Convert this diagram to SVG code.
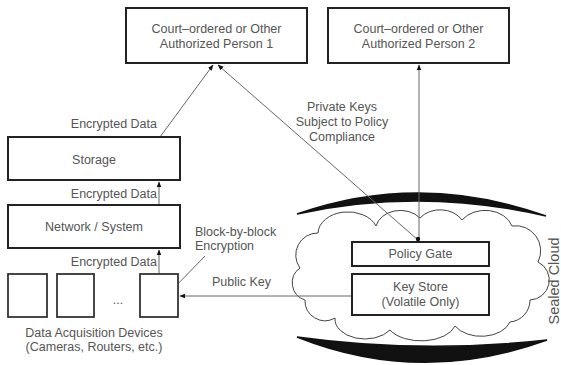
<svg xmlns="http://www.w3.org/2000/svg" width="561" height="365" viewBox="0 0 561 365">
<style>
.box{fill:#fff;stroke:#222;stroke-width:2}
.dev{fill:#fff;stroke:#333;stroke-width:1.8}
.t{font-family:"Liberation Sans",Arial,sans-serif;font-size:12.5px;fill:#555;text-anchor:middle}
.l{font-family:"Liberation Sans",Arial,sans-serif;font-size:12.5px;fill:#555}
.c{stroke:#666;stroke-width:1;fill:none}
</style>
<defs>
<marker id="ah" viewBox="0 0 10 10" refX="9" refY="5" markerWidth="6" markerHeight="6" orient="auto">
<path d="M0,1 L10,5 L0,9 Z" fill="#111"/>
</marker>
</defs>
<rect width="561" height="365" fill="#fff"/>

<g id="crescents">
<path d="M297,214 Q420,171 546,216 Q420,187 297,214 Z" fill="#111" stroke="#111" stroke-width="1.5"/>
<path d="M297,337 Q420,386 547,340 Q420,354 297,337 Z" fill="#111" stroke="#111" stroke-width="1.5"/>
</g>

<g id="cloud">
<path d="M305,300 A18 18 0 0 1 300,268 A22 22 0 0 1 318,233 A30 22 0 0 1 376,226 A25 20 0 0 1 420,218 A25 20 0 0 1 462,220 A28 22 0 0 1 512,226 A25 25 0 0 1 538,262 A20 20 0 0 1 530,300 A22 22 0 0 1 510,322 A30 20 0 0 1 455,326 A35 20 0 0 1 390,330 A30 20 0 0 1 335,318 A20 20 0 0 1 305,300 Z" fill="#fff" stroke="#444" stroke-width="1"/>
</g>

<g id="connectors">
<line class="c" x1="160" y1="137" x2="213" y2="65" marker-end="url(#ah)"/>
<line class="c" x1="418" y1="240" x2="218" y2="65" marker-end="url(#ah)"/>
<line class="c" x1="419" y1="240" x2="419" y2="65" marker-end="url(#ah)"/>
<line class="c" x1="159" y1="205" x2="159" y2="182" marker-end="url(#ah)"/>
<line class="c" x1="159" y1="274" x2="159" y2="250" marker-end="url(#ah)"/>
<line class="c" x1="352" y1="296" x2="180" y2="296" marker-end="url(#ah)"/>
<line class="c" x1="172" y1="290" x2="205" y2="256"/>
<circle cx="418" cy="239" r="2.2" fill="#111"/>
</g>

<g id="person1">
<rect class="box" x="126" y="8" width="181" height="55"/>
<text class="t" x="216.5" y="33">Court–ordered or Other</text>
<text class="t" x="216.5" y="48">Authorized Person 1</text>
</g>
<g id="person2">
<rect class="box" x="328" y="8" width="181" height="55"/>
<text class="t" x="418.5" y="33">Court–ordered or Other</text>
<text class="t" x="418.5" y="48">Authorized Person 2</text>
</g>
<g id="storage">
<rect class="box" x="8" y="137" width="172" height="43"/>
<text class="t" x="94" y="164">Storage</text>
</g>
<g id="network">
<rect class="box" x="8" y="205" width="172" height="43"/>
<text class="t" x="94" y="231">Network / System</text>
</g>
<g id="devices">
<rect class="dev" x="8" y="274" width="39" height="43"/>
<rect class="dev" x="57" y="274" width="37" height="43"/>
<text class="t" x="118" y="304">...</text>
<rect class="dev" x="140" y="274" width="38" height="43"/>
<text class="t" x="94" y="337">Data Acquisition Devices</text>
<text class="t" x="94" y="351">(Cameras, Routers, etc.)</text>
</g>
<g id="policygate">
<rect class="box" x="352" y="242" width="137" height="24"/>
<text class="t" x="420.5" y="258">Policy Gate</text>
</g>
<g id="keystore">
<rect class="box" x="352" y="274" width="137" height="41"/>
<text class="t" x="420.5" y="291">Key Store</text>
<text class="t" x="420.5" y="306">(Volatile Only)</text>
</g>

<g id="labels">
<text class="l" x="157" y="128" text-anchor="end">Encrypted Data</text>
<text class="l" x="157" y="198" text-anchor="end">Encrypted Data</text>
<text class="l" x="157" y="266" text-anchor="end">Encrypted Data</text>
<text class="l" x="195" y="236">Block-by-block</text>
<text class="l" x="195" y="250">Encryption</text>
<text class="l" x="212" y="286">Public Key</text>
<text class="t" x="342" y="111">Private Keys</text>
<text class="t" x="342" y="126">Subject to Policy</text>
<text class="t" x="342" y="141">Compliance</text>
<text class="t" transform="translate(559,281) rotate(-90)" style="font-size:14.5px">Sealed Cloud</text>
</g>
</svg>
